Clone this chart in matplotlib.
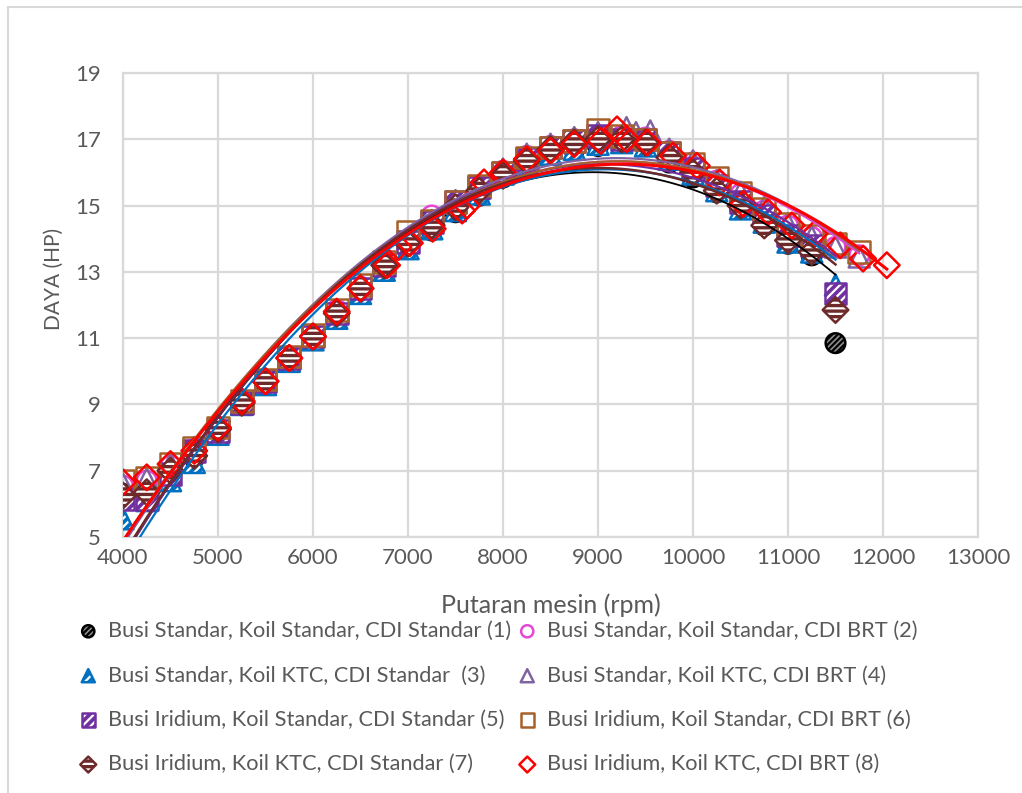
import numpy as np
import matplotlib
matplotlib.use("Agg")
import matplotlib.pyplot as plt
from matplotlib.patches import Rectangle
from matplotlib.legend_handler import HandlerTuple

plt.rcParams['font.family'] = ['Lato', 'DejaVu Sans']
plt.rcParams['hatch.linewidth'] = 1.6

# ---- data: engine speed (rpm) vs power (HP) ----
rpm_std = [4000, 4250, 4500, 4750, 5000, 5250, 5500, 5750, 6000, 6250, 6500,
           6750, 7000, 7250, 7500, 7750, 8000, 8250, 8500, 8750, 9000, 9250,
           9500, 9750, 10000, 10250, 10500, 10750, 11000, 11250, 11500]
rpm_ext = rpm_std + [11750]
rpm_s4 = [4000, 4250, 4500, 4750, 5000, 5250, 5500, 5750, 6000, 6250, 6500,
          6750, 7000, 7250, 7500, 7750, 8000, 8250, 8500, 8750, 9000, 9300,
          9400, 9550, 9750, 10000, 10250, 10500, 10750, 11000, 11250, 11500, 11750]
rpm_s8 = [4000, 4250, 4500, 4750, 5000, 5250, 5500, 5750, 6000, 6250, 6500,
          6780, 6900, 7020, 7260, 7570, 7620, 7800, 8000, 8250, 8500, 8750,
          9030, 9200, 9300, 9520, 9790, 10040, 10280, 10530, 10790, 11040,
          11280, 11550, 11790, 12040]

hp_s1 = [6.3, 6.3, 6.9, 7.4, 8.2, 9.0, 9.65, 10.35, 11.0, 11.7, 12.45, 13.15,
         13.8, 14.25, 14.8, 15.3, 15.85, 16.25, 16.55, 16.7, 16.8, 16.9, 16.8,
         16.3, 15.85, 15.4, 14.9, 14.4, 13.85, 13.5, 10.85]
hp_s2 = [6.55, 6.7, 7.15, 7.65, 8.3, 9.1, 9.75, 10.45, 11.1, 11.85, 12.55,
         13.25, 13.95, 14.7, 15.1, 15.6, 16.05, 16.5, 16.8, 17.0, 17.1, 17.1,
         17.05, 16.65, 16.3, 15.75, 15.35, 14.85, 14.4, 14.05, 13.75, 13.5]
hp_s3 = [5.55, 6.1, 6.7, 7.25, 8.1, 9.0, 9.6, 10.3, 10.95, 11.6, 12.35, 13.05,
         13.7, 14.3, 14.85, 15.35, 15.95, 16.2, 16.55, 16.7, 16.85, 16.9, 16.8,
         16.4, 15.95, 15.45, 14.9, 14.5, 13.9, 13.6, 12.6]
hp_s4 = [6.6, 6.75, 7.2, 7.7, 8.3, 9.1, 9.75, 10.45, 11.1, 11.85, 12.6, 13.3,
         14.0, 14.55, 15.15, 15.6, 16.1, 16.55, 16.85, 17.05, 17.2, 17.35,
         17.2, 17.25, 16.7, 16.35, 15.75, 15.4, 14.95, 14.45, 14.05, 13.75, 13.45]
hp_s5 = [6.15, 6.15, 6.9, 7.6, 8.2, 9.05, 9.7, 10.4, 11.05, 11.75, 12.5, 13.2,
         13.9, 14.5, 15.1, 15.55, 16.0, 16.4, 16.75, 16.95, 17.1, 17.0, 17.0,
         16.6, 16.1, 15.6, 15.1, 14.7, 14.1, 13.8, 12.35]
hp_s6 = [6.7, 6.8, 7.2, 7.7, 8.3, 9.1, 9.75, 10.45, 11.1, 11.85, 12.6, 13.3,
         14.2, 14.55, 15.1, 15.6, 16.0, 16.45, 16.75, 16.95, 17.3, 17.1, 17.0,
         16.6, 16.25, 15.85, 15.4, 14.9, 14.45, 14.1, 13.85, 13.6]
hp_s7 = [6.25, 6.35, 7.0, 7.45, 8.25, 9.05, 9.7, 10.4, 11.05, 11.75, 12.5,
         13.2, 13.85, 14.4, 14.95, 15.45, 15.9, 16.35, 16.7, 16.9, 17.0,
         17.0, 16.9, 16.45, 16.0, 15.45, 15.0, 14.4, 13.95, 13.6, 11.85]
hp_s8 = [6.65, 6.8, 7.2, 7.6, 8.3, 9.1, 9.7, 10.4, 11.05, 11.8, 12.5, 13.2,
         13.75, 13.87, 14.3, 14.85, 15.0, 15.7, 16.0, 16.4, 16.65, 16.85,
         16.95, 17.3, 17.0, 16.9, 16.5, 16.2, 15.7, 15.05, 14.8, 14.4,
         14.15, 13.8, 13.4, 13.2]

labels = [
    "Busi Standar, Koil Standar, CDI Standar (1)",
    "Busi Standar, Koil Standar, CDI BRT (2)",
    "Busi Standar, Koil KTC, CDI Standar  (3)",
    "Busi Standar, Koil KTC, CDI BRT (4)",
    "Busi Iridium, Koil Standar, CDI Standar (5)",
    "Busi Iridium, Koil Standar, CDI BRT (6)",
    "Busi Iridium, Koil KTC, CDI Standar (7)",
    "Busi Iridium, Koil KTC, CDI BRT (8)",
]

x_ticks = list(range(4000, 13001, 1000))
y_ticks = list(range(5, 20, 2))

# ---- figure ----
fig = plt.figure(figsize=(10.22, 7.93), dpi=100)
ax = fig.add_axes([123 / 1022, 1 - 537 / 793, (978 - 123) / 1022, (537 - 73) / 793])

grid_c = "#D9D9D9"
text_c = "#595959"

# (x, y, marker, size, face, edge, hatch, hatch colour, open, line colour, lw)
series = [
    (rpm_std, hp_s1, "o", 200, "#8C8C8C", "#000000", "//////", "#000000", False, "#000000", 1.3),
    (rpm_ext, hp_s2, "o", 200, "none", "#E548D6", None, None, True, "#E548D6", 1.6),
    (rpm_std, hp_s3, "^", 230, "#0070C0", "#0070C0", "////", "#FFFFFF", False, "#0070C0", 1.6),
    (rpm_s4, hp_s4, "^", 230, "none", "#8064A2", None, None, True, "#8064A2", 1.6),
    (rpm_std, hp_s5, "s", 240, "#7030A0", "#7030A0", "////", "#FFFFFF", False, "#7030A0", 1.6),
    (rpm_ext, hp_s6, "s", 240, "none", "#A5612B", None, None, True, "#A5612B", 1.6),
    (rpm_std, hp_s7, "D", 170, "#6E2A2A", "#6E2A2A", "---", "#FFFFFF", False, "#6E2A2A", 1.8),
    (rpm_s8, hp_s8, "D", 170, "none", "#FF0000", None, None, True, "#FF0000", 2.2),
]

handles = []
for i, (xs, ys, mk, sz, fc, ec, hatch, hcol, is_open, lc, lw) in enumerate(series):
    xs = np.asarray(xs, float)
    ys = np.asarray(ys, float)
    if is_open:
        h = ax.scatter(xs, ys, s=sz, marker=mk, facecolors="none",
                       edgecolors=ec, linewidths=1.8, zorder=3 + i * 0.1)
        handles.append(h)
    else:
        # filled body with light hatch stripes, then a solid outline on top
        h1 = ax.scatter(xs, ys, s=sz, marker=mk, facecolors=fc,
                        edgecolors=hcol, hatch=hatch, linewidths=0,
                        zorder=3 + i * 0.1)
        h2 = ax.scatter(xs, ys, s=sz, marker=mk, facecolors="none",
                        edgecolors=ec, linewidths=1.8, zorder=3 + i * 0.1 + 0.01)
        handles.append((h1, h2))

# quadratic trendlines fitted to each series
for i, (xs, ys, mk, sz, fc, ec, hatch, hcol, is_open, lc, lw) in enumerate(series):
    xs = np.asarray(xs, float)
    ys = np.asarray(ys, float)
    coef = np.polyfit(xs, ys, 2)
    xx = np.linspace(xs.min(), xs.max(), 300)
    ax.plot(xx, np.polyval(coef, xx), color=lc, lw=lw, zorder=5 + i * 0.1)

ax.set_xlim(4000, 13000)
ax.set_ylim(5, 19)
ax.set_xticks(x_ticks)
ax.set_yticks(y_ticks)
ax.grid(True, color=grid_c, lw=1.6)
ax.set_axisbelow(True)
for sp in ax.spines.values():
    sp.set_color(grid_c)
    sp.set_linewidth(1.6)
ax.tick_params(length=0, labelsize=16, colors=text_c, pad=8)
ax.tick_params(axis="y", pad=16)

ax.set_xlabel("Putaran mesin (rpm)", fontsize=18, color=text_c)
ax.xaxis.set_label_coords(0.5, (537 - 605) / 464)
ax.xaxis.label.set_verticalalignment("center")
ax.set_ylabel("DAYA (HP)", fontsize=15, color=text_c)
ax.yaxis.set_label_coords((54 - 123) / 855, (537 - 279) / 464)
ax.yaxis.label.set_verticalalignment("center")

legend_kw = dict(loc="upper left", frameon=False, fontsize=15.7, markerscale=0.62,
                 handlelength=0.85, handletextpad=0.5, labelspacing=1.12,
                 borderaxespad=0, borderpad=0,
                 handler_map={tuple: HandlerTuple(ndivide=1, pad=0)})
cols = [[0, 2, 4, 6], [1, 3, 5, 7]]
anchors_x = [79, 518]
for col, x0 in zip(cols, anchors_x):
    leg = fig.legend([handles[k] for k in col], [labels[k] for k in col],
                     bbox_to_anchor=(x0 / 1022, 1 - 621 / 793), **legend_kw)
    for t in leg.get_texts():
        t.set_color(text_c)

# outer chart frame
fig.patches.append(Rectangle((8 / 1022, -0.05), 1.2, 1.05 - 7 / 793, fill=False,
                             edgecolor=grid_c, lw=1.5, transform=fig.transFigure,
                             figure=fig))

fig.savefig("out.png", dpi=100, facecolor="white")
